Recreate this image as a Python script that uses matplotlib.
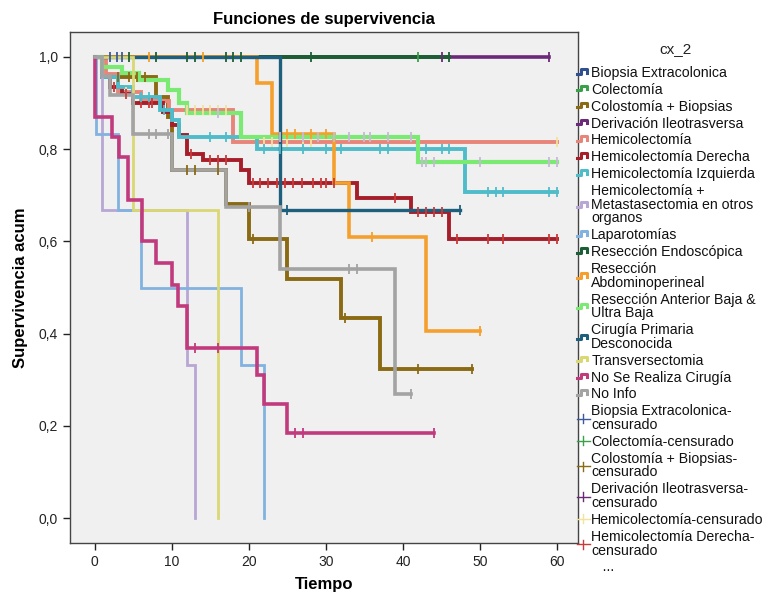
import numpy as np
import matplotlib
matplotlib.use("Agg")
import matplotlib.pyplot as plt
from matplotlib.lines import Line2D
from matplotlib.legend_handler import HandlerBase

plt.rcParams['font.family'] = ['Liberation Sans', 'DejaVu Sans']

# ---------------- data ----------------
groups = ["Biopsia Extracolonica", "Colectomía", "Colostomía + Biopsias",
          "Derivación Ileotrasversa", "Hemicolectomía", "Hemicolectomía Derecha",
          "Hemicolectomía Izquierda", "Hemicolectomía +\nMetastasectomia en otros\norganos",
          "Laparotomías", "Resección Endoscópica", "Resección\nAbdominoperineal",
          "Resección Anterior Baja &\nUltra Baja", "Cirugía Primaria\nDesconocida",
          "Transversectomia", "No Se Realiza Cirugía", "No Info"]

line_colors = ["#2f4f8f", "#3aa04a", "#8b6a14", "#6a2a78", "#e8857a", "#a51e2a",
               "#4fbcc9", "#b8a6d4", "#82b2e0", "#1d5e36", "#f5a02c", "#7aea72",
               "#1f5f7e", "#d9d873", "#c23a7e", "#a3a3a3"]

censor_colors = ["#3a5a9a", "#3aa04a", "#8b6a14", "#6a2a78", "#f3e29a", "#c83a3a",
                 "#4fbcc9", "#b8a6d4", "#82b2e0", "#1d5e36", "#f5a02c", "#c9b8d9",
                 "#1f5f7e", "#d9d873", "#c23a7e", "#a3a3a3"]

# event times and survival after each event
ev_biopsia_t, ev_biopsia_s = [], []
ev_colect_t, ev_colect_s = [], []
ev_colost_t = [1, 8, 9.5, 10, 17, 20, 25, 32, 37]
ev_colost_s = [0.957, 0.913, 0.87, 0.755, 0.68, 0.605, 0.518, 0.434, 0.323]
ev_deriv_t, ev_deriv_s = [], []
ev_hemi_t = [1.5, 3, 6, 9.7, 18]
ev_hemi_s = [0.962, 0.923, 0.904, 0.885, 0.816]
ev_der_t = [1, 2, 3.5, 5, 8.8, 10, 11, 12, 14, 19, 20, 34, 41, 46]
ev_der_s = [0.957, 0.935, 0.92, 0.9, 0.88, 0.852, 0.83, 0.79, 0.776, 0.755, 0.726, 0.694, 0.663, 0.605]
ev_izq_t = [1, 3, 5, 8.5, 10, 11, 21, 48]
ev_izq_s = [0.957, 0.935, 0.913, 0.885, 0.863, 0.826, 0.8, 0.707]
ev_meta_t = [1, 12, 13]
ev_meta_s = [0.667, 0.333, 0.0]
ev_lapa_t = [0.2, 3, 6, 19, 22]
ev_lapa_s = [0.833, 0.667, 0.5, 0.333, 0.0]
ev_endo_t, ev_endo_s = [], []
ev_abdo_t = [21, 23, 31, 33, 43]
ev_abdo_s = [0.944, 0.833, 0.726, 0.61, 0.405]
ev_ant_t = [1, 3.5, 5.8, 9.5, 11, 12, 19, 42]
ev_ant_s = [0.978, 0.966, 0.95, 0.928, 0.9, 0.878, 0.826, 0.772]
ev_desc_t = [24]
ev_desc_s = [0.667]
ev_trans_t = [5, 16]
ev_trans_s = [0.667, 0.0]
ev_nose_t = [0.1, 2.2, 3.2, 4.3, 6.1, 8, 10, 10.8, 12, 21, 22, 25]
ev_nose_s = [0.87, 0.826, 0.783, 0.69, 0.6, 0.553, 0.505, 0.46, 0.369, 0.31, 0.247, 0.185]
ev_noinfo_t = [1, 2, 5, 10, 17, 24, 39]
ev_noinfo_s = [0.958, 0.917, 0.833, 0.755, 0.675, 0.54, 0.27]

# censored times
cens_biopsia = [2, 2.9, 3.6]
cens_colect = [42]
cens_colost = [3, 4.5, 5.5, 6.5, 12, 13, 16, 20.5, 32.5, 42, 49]
cens_deriv = [45, 59]
cens_hemi = [4, 12, 13, 14, 15, 16, 17, 22, 23, 25, 27, 28, 60]
cens_der = [2.5, 4, 6, 7, 7.5, 12.5, 15, 16, 17, 20.5, 21.5, 22.5, 23.6, 24.7, 25.7,
            26.9, 28.3, 29.4, 30, 31, 39, 42, 43, 44, 45, 47, 51, 53, 59, 60]
cens_izq = [6, 7, 9, 15, 17, 22, 24, 27, 30, 32, 37, 38, 43, 45, 46, 51, 52, 53, 59, 60]
cens_meta = []
cens_lapa = []
cens_endo = [4.5, 8, 12, 13, 17, 18, 19, 28, 46]
cens_abdo = [7, 14, 25, 26, 28, 30, 36, 50]
cens_ant = [16, 24, 27, 29, 31, 33, 35, 35.7, 38, 41, 42.5, 43, 44, 50, 59, 60]
cens_desc = [25, 47.4]
cens_trans = []
cens_nose = [13, 16, 26, 27, 44]
cens_noinfo = [7, 8, 9.5, 20, 33, 34, 41]

end_times = [3.6, 42, 49, 59, 60, 60, 60, 13, 22, 46, 50, 60, 47.4, 16, 44, 41]

censor_labels = ["Biopsia Extracolonica-\ncensurado", "Colectomía-censurado",
                 "Colostomía + Biopsias-\ncensurado", "Derivación Ileotrasversa-\ncensurado",
                 "Hemicolectomía-censurado", "Hemicolectomía Derecha-\ncensurado"]

yticks = [0.0, 0.2, 0.4, 0.6, 0.8, 1.0]
ytick_labels = ["0,0", "0,2", "0,4", "0,6", "0,8", "1,0"]
xticks = [0, 10, 20, 30, 40, 50, 60]

events = [(ev_biopsia_t, ev_biopsia_s), (ev_colect_t, ev_colect_s), (ev_colost_t, ev_colost_s),
          (ev_deriv_t, ev_deriv_s), (ev_hemi_t, ev_hemi_s), (ev_der_t, ev_der_s),
          (ev_izq_t, ev_izq_s), (ev_meta_t, ev_meta_s), (ev_lapa_t, ev_lapa_s),
          (ev_endo_t, ev_endo_s), (ev_abdo_t, ev_abdo_s), (ev_ant_t, ev_ant_s),
          (ev_desc_t, ev_desc_s), (ev_trans_t, ev_trans_s), (ev_nose_t, ev_nose_s),
          (ev_noinfo_t, ev_noinfo_s)]
censors = [cens_biopsia, cens_colect, cens_colost, cens_deriv, cens_hemi, cens_der, cens_izq,
           cens_meta, cens_lapa, cens_endo, cens_abdo, cens_ant, cens_desc, cens_trans,
           cens_nose, cens_noinfo]
widths = [2.6, 2.6, 2.8, 2.6, 2.8, 2.8, 2.8, 2.0, 2.0, 2.8, 2.6, 3.0, 2.4, 2.0, 2.6, 2.6]

# ---------------- figure ----------------
fig = plt.figure(figsize=(7.68, 6.05), dpi=100)
ax = fig.add_axes([70/768, 1-543/605, (578-70)/768, (543-32)/605])
ax.set_facecolor("#f0f0f0")

def surv_at(t, et, es):
    s = 1.0
    for ti, si in zip(et, es):
        if t >= ti:
            s = si
    return s

for i in range(16):
    et, es = events[i]
    end = end_times[i]
    xs = [0] + list(et) + [end]
    ys = [1.0] + list(es) + [es[-1] if es else 1.0]
    ax.step(xs, ys, where='post', color=line_colors[i], lw=widths[i], zorder=2 + i * 0.01,
            solid_joinstyle='miter')
for i in range(16):
    et, es = events[i]
    cs = censors[i]
    if cs:
        cy = [surv_at(t, et, es) for t in cs]
        ax.plot(cs, cy, linestyle='none', marker='|', markersize=7, mew=1.3,
                color=censor_colors[i], zorder=2.5)

ax.set_xlim(-3.2, 62.7)
ax.set_ylim(-0.054, 1.054)
ax.set_xticks(xticks)
ax.set_yticks(yticks)
ax.set_yticklabels(ytick_labels)
ax.tick_params(axis='both', direction='out', length=5, width=1, labelsize=10, color="#222222",
               labelcolor="#222222")
for sp in ax.spines.values():
    sp.set_color("#444444")
    sp.set_linewidth(1.0)

ax.set_title("Funciones de supervivencia", fontsize=12, fontweight='bold', pad=6)
ax.set_xlabel("Tiempo", fontsize=12, fontweight='bold', labelpad=6)
ax.set_ylabel("Supervivencia acum", fontsize=12, fontweight='bold', labelpad=8)

# ---------------- legend ----------------
class StepHandler(HandlerBase):
    def create_artists(self, legend, orig_handle, xdescent, ydescent, width, height, fontsize, trans):
        xs = np.array([0.0, 0.3, 0.3, 0.8, 0.8]) * width - xdescent
        ys = np.array([0.35, 0.35, 0.8, 0.8, 0.45]) * height - ydescent
        return [Line2D(xs, ys, color=orig_handle.get_color(), lw=2.2, transform=trans)]

class CensorHandler(HandlerBase):
    def create_artists(self, legend, orig_handle, xdescent, ydescent, width, height, fontsize, trans):
        c = orig_handle.get_color()
        h = Line2D(np.array([0.0, 1.0]) * width - xdescent, np.array([0.5, 0.5]) * height - ydescent,
                   color=c, lw=1.0, transform=trans)
        v = Line2D(np.array([0.5, 0.5]) * width - xdescent, np.array([0.05, 0.95]) * height - ydescent,
                   color=c, lw=1.0, transform=trans)
        return [h, v]

class BlankHandler(HandlerBase):
    def create_artists(self, legend, orig_handle, xdescent, ydescent, width, height, fontsize, trans):
        return [Line2D([0], [0], color='none', transform=trans)]

class StepKey(Line2D):
    pass

class CensorKey(Line2D):
    pass

class BlankKey(Line2D):
    pass

handles, labels = [], []
for i, g in enumerate(groups):
    handles.append(StepKey([], [], color=line_colors[i]))
    labels.append(g)
for j, lab in enumerate(censor_labels):
    handles.append(CensorKey([], [], color=censor_colors[j]))
    labels.append(lab)
handles.append(BlankKey([], []))
labels.append("   ...")

fig.text(676/768, 1-49/605, "cx_2", fontsize=11, ha='center', va='center', color="#222222")
leg = fig.legend(handles, labels, loc='upper left', bbox_to_anchor=(577/768, 1-66/605),
                 frameon=False, fontsize=10.2,
                 handlelength=0.9, handletextpad=0.1, labelspacing=0.2, borderpad=0,
                 borderaxespad=0,
                 handler_map={StepKey: StepHandler(), CensorKey: CensorHandler(),
                              BlankKey: BlankHandler()})
for t in leg.get_texts():
    t.set_color("#111111")
    t.set_linespacing(0.98)

fig.savefig("out.png", dpi=100)
